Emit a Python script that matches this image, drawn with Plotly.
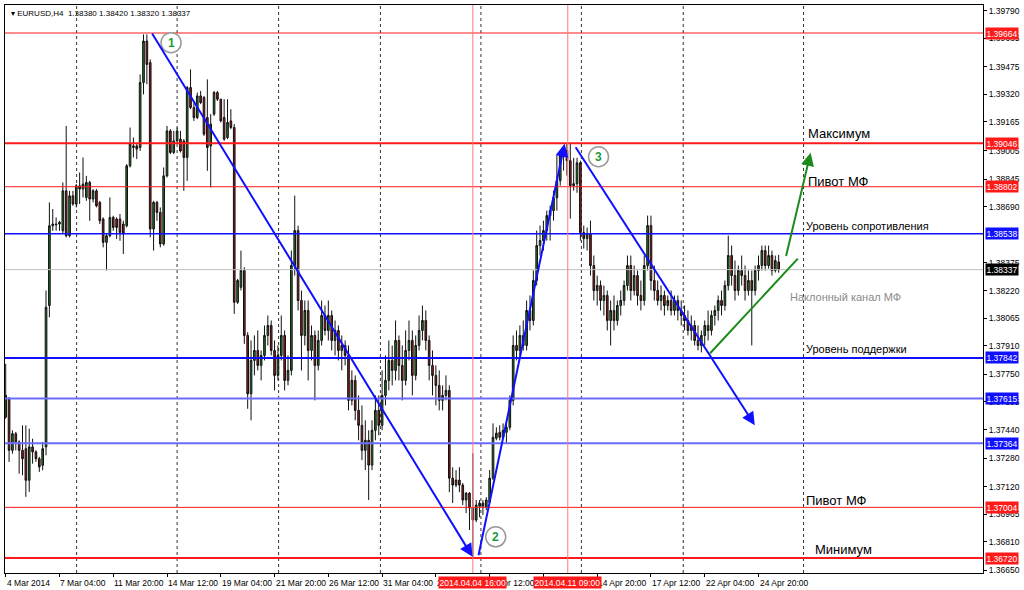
import plotly.graph_objects as go

# ---------------- data (EURUSD H4, bar index = H4 bar from 4 Mar 2014 12:00) ----------------
opens = [1.37511, 1.37613, 1.37324, 1.37417, 1.37371, 1.37324, 1.37333, 1.37156, 1.37343, 1.37315,
         1.37277, 1.37240, 1.37343, 1.38136, 1.38583, 1.38593, 1.38593, 1.38555, 1.38779, 1.38527,
         1.38751, 1.38705, 1.38807, 1.38789, 1.38742, 1.38826, 1.38733, 1.38779, 1.38714, 1.38621,
         1.38490, 1.38527, 1.38630, 1.38621, 1.38621, 1.38593, 1.38583, 1.38919, 1.39022, 1.39031,
         1.39022, 1.39386, 1.39619, 1.39498, 1.38565, 1.38714, 1.38658, 1.38481, 1.38863, 1.39115,
         1.38994, 1.39059, 1.39069, 1.39059, 1.38966, 1.39358, 1.39246, 1.39190, 1.39311, 1.39302,
         1.39190, 1.39031, 1.39209, 1.39330, 1.39293, 1.39190, 1.39078, 1.39171, 1.39134, 1.38154,
         1.38238, 1.38332, 1.37968,
         1.37641, 1.37828, 1.37884, 1.37800, 1.37856, 1.37968, 1.38024, 1.37884, 1.37744, 1.37856,
         1.37968, 1.37716, 1.37772, 1.38360, 1.38556, 1.38164, 1.37968, 1.38108, 1.37884, 1.37968,
         1.37800, 1.37940, 1.38080, 1.37996, 1.38080, 1.37940, 1.37996, 1.37884, 1.37912, 1.37856,
         1.37604, 1.37716, 1.37548, 1.37464, 1.37324, 1.37380, 1.37241, 1.37436, 1.37548, 1.37464,
         1.37632, 1.37716, 1.37828, 1.37772, 1.37940, 1.37800, 1.37716, 1.37884, 1.37940, 1.37744,
         1.37912, 1.37996, 1.38052, 1.37940, 1.37800, 1.37744, 1.37688, 1.37604, 1.37632, 1.37660,
         1.37168, 1.37129, 1.37157, 1.37129, 1.37045, 1.37084, 1.37000, 1.36933, 1.37011, 1.37028,
         1.37005, 1.37033, 1.37168, 1.37392, 1.37425, 1.37397, 1.37425, 1.37453, 1.37604, 1.37912,
         1.37884, 1.37968, 1.37912, 1.38108, 1.38052, 1.38276, 1.38472, 1.38500, 1.38556, 1.38640,
         1.38668, 1.38740, 1.38836, 1.38976, 1.39004, 1.38948, 1.38808, 1.38819, 1.38936, 1.38545,
         1.38511, 1.38539, 1.38360, 1.38220, 1.38248, 1.38164, 1.38192, 1.38052, 1.38108, 1.38052,
         1.38136, 1.38164, 1.38248, 1.38360, 1.38220, 1.38304, 1.38192, 1.38164, 1.38360, 1.38584,
         1.38276, 1.38220, 1.38164, 1.38192, 1.38136, 1.38164, 1.38108, 1.38164, 1.38108, 1.38080,
         1.38052, 1.37996, 1.38024, 1.37940, 1.37912, 1.37968, 1.38024, 1.37996, 1.38080, 1.38108,
         1.38164, 1.38136, 1.38248, 1.38416, 1.38304, 1.38220, 1.38332, 1.38304, 1.38220, 1.38276,
         1.38220, 1.38332, 1.38360, 1.38444, 1.38360, 1.38416, 1.38332, 1.38380]
highs = [1.37809, 1.37623, 1.37436, 1.37427, 1.37380, 1.37464, 1.37464, 1.37445, 1.37389, 1.37324,
         1.37287, 1.37371, 1.38220, 1.38714, 1.38677, 1.38630, 1.38611, 1.38826, 1.39143, 1.38779,
         1.38779, 1.38817, 1.38882, 1.38966, 1.38863, 1.38835, 1.38789, 1.38789, 1.38723, 1.38630,
         1.38537, 1.38742, 1.38639, 1.38630, 1.38649, 1.38611, 1.38929, 1.39134, 1.39078, 1.39041,
         1.39432, 1.39656, 1.39656, 1.39516, 1.38723, 1.38723, 1.38686, 1.38910, 1.39143, 1.39125,
         1.39115, 1.39134, 1.39115, 1.39069, 1.39367, 1.39460, 1.39283, 1.39330, 1.39339, 1.39311,
         1.39404, 1.39209, 1.39339, 1.39339, 1.39293, 1.39293, 1.39293, 1.39237, 1.39153, 1.38285,
         1.38444, 1.38350, 1.37986,
         1.37940, 1.37968, 1.37996, 1.37884, 1.38024, 1.38080, 1.38052, 1.37940, 1.37912, 1.38080,
         1.37996, 1.37856, 1.38444, 1.38752, 1.38584, 1.38220, 1.38164, 1.38164, 1.38024, 1.37996,
         1.37996, 1.38164, 1.38136, 1.38164, 1.38108, 1.38052, 1.38024, 1.37968, 1.37940, 1.37912,
         1.37772, 1.37744, 1.37632, 1.37576, 1.37492, 1.37436, 1.37492, 1.37632, 1.37632, 1.37772,
         1.37856, 1.37940, 1.37912, 1.38052, 1.37968, 1.37912, 1.37996, 1.38052, 1.37996, 1.37968,
         1.38080, 1.38136, 1.38108, 1.37968, 1.37884, 1.37800, 1.37772, 1.37688, 1.37744, 1.37688,
         1.37229, 1.37213, 1.37229, 1.37140, 1.37089, 1.37089, 1.37308, 1.37045, 1.37045, 1.37045,
         1.37061, 1.37213, 1.37475, 1.37453, 1.37464, 1.37475, 1.37492, 1.37632, 1.37968, 1.37996,
         1.38024, 1.38052, 1.38164, 1.38192, 1.38332, 1.38556, 1.38584, 1.38612, 1.38668, 1.38696,
         1.38780, 1.38976, 1.39004, 1.39032, 1.39043, 1.39043, 1.38964, 1.38964, 1.38948, 1.38584,
         1.38573, 1.38612, 1.38416, 1.38304, 1.38276, 1.38248, 1.38220, 1.38164, 1.38192, 1.38164,
         1.38220, 1.38276, 1.38416, 1.38416, 1.38360, 1.38332, 1.38276, 1.38416, 1.38640, 1.38640,
         1.38360, 1.38276, 1.38248, 1.38220, 1.38192, 1.38220, 1.38192, 1.38192, 1.38164, 1.38136,
         1.38108, 1.38080, 1.38052, 1.38024, 1.37996, 1.38052, 1.38108, 1.38108, 1.38136, 1.38192,
         1.38220, 1.38276, 1.38528, 1.38472, 1.38388, 1.38360, 1.38416, 1.38360, 1.38332, 1.38332,
         1.38360, 1.38416, 1.38472, 1.38472, 1.38472, 1.38444, 1.38416, 1.38420]
lows = [1.37501, 1.37259, 1.37305, 1.37324, 1.37193, 1.37184, 1.37063, 1.37091, 1.37249, 1.37259,
        1.37203, 1.37212, 1.37296, 1.38070, 1.38555, 1.38555, 1.38555, 1.38537, 1.38518, 1.38518,
        1.38695, 1.38686, 1.38705, 1.38742, 1.38723, 1.38611, 1.38714, 1.38686, 1.38593, 1.38462,
        1.38332, 1.38518, 1.38555, 1.38509, 1.38499, 1.38425, 1.38574, 1.38910, 1.38966, 1.38957,
        1.39003, 1.39320, 1.39377, 1.38518, 1.38444, 1.38611, 1.38462, 1.38471, 1.38854, 1.38985,
        1.38985, 1.39041, 1.38994, 1.38779, 1.38835, 1.39237, 1.39171, 1.39181, 1.39265, 1.39087,
        1.38891, 1.38798, 1.39199, 1.39283, 1.39162, 1.39059, 1.39069, 1.39125, 1.38089, 1.38145,
        1.38220, 1.37921, 1.37557,
        1.37492, 1.37744, 1.37772, 1.37716, 1.37828, 1.37912, 1.37856, 1.37660, 1.37716, 1.37828,
        1.37660, 1.37688, 1.37744, 1.38304, 1.38108, 1.37772, 1.37912, 1.37716, 1.37828, 1.37604,
        1.37772, 1.37912, 1.37968, 1.37940, 1.37884, 1.37856, 1.37828, 1.37772, 1.37800, 1.37548,
        1.37576, 1.37492, 1.37380, 1.37269, 1.37213, 1.37045, 1.37213, 1.37380, 1.37408, 1.37436,
        1.37576, 1.37660, 1.37688, 1.37716, 1.37716, 1.37604, 1.37688, 1.37828, 1.37632, 1.37716,
        1.37884, 1.37940, 1.37884, 1.37716, 1.37632, 1.37576, 1.37548, 1.37548, 1.37604, 1.37089,
        1.37028, 1.37117, 1.37089, 1.37017, 1.36972, 1.36877, 1.36726, 1.36921, 1.36949, 1.36961,
        1.36989, 1.37028, 1.37157, 1.37380, 1.37380, 1.37392, 1.37364, 1.37436, 1.37576, 1.37828,
        1.37856, 1.37884, 1.37884, 1.37996, 1.38024, 1.38248, 1.38416, 1.38444, 1.38500, 1.38500,
        1.38612, 1.38668, 1.38808, 1.38892, 1.38864, 1.38623, 1.38780, 1.38768, 1.38500, 1.38455,
        1.38444, 1.38304, 1.38164, 1.38136, 1.38108, 1.38080, 1.37996, 1.37912, 1.37996, 1.38024,
        1.38080, 1.38136, 1.38220, 1.38164, 1.38192, 1.38136, 1.38108, 1.38136, 1.38332, 1.38220,
        1.38164, 1.38136, 1.38108, 1.38080, 1.38108, 1.38080, 1.38080, 1.38052, 1.38024, 1.37996,
        1.37968, 1.37940, 1.37912, 1.37884, 1.37873, 1.37912, 1.37940, 1.37968, 1.38024, 1.38052,
        1.38080, 1.38108, 1.38220, 1.38248, 1.38164, 1.38192, 1.38248, 1.38164, 1.38192, 1.37912,
        1.38192, 1.38276, 1.38332, 1.38332, 1.38343, 1.38304, 1.38321, 1.38320]
closes = [1.37632, 1.37324, 1.37417, 1.37371, 1.37324, 1.37277, 1.37156, 1.37343, 1.37315, 1.37277,
          1.37231, 1.37333, 1.38126, 1.38583, 1.38593, 1.38589, 1.38602, 1.38779, 1.38527, 1.38751,
          1.38705, 1.38807, 1.38789, 1.38817, 1.38826, 1.38733, 1.38779, 1.38695, 1.38611, 1.38490,
          1.38527, 1.38630, 1.38574, 1.38574, 1.38546, 1.38537, 1.38919, 1.39041, 1.39031, 1.39013,
          1.39386, 1.39619, 1.39488, 1.38565, 1.38714, 1.38658, 1.38481, 1.38863, 1.39115, 1.38994,
          1.39059, 1.39115, 1.39003, 1.38966, 1.39358, 1.39246, 1.39190, 1.39311, 1.39274, 1.39097,
          1.39022, 1.39153, 1.39330, 1.39293, 1.39171, 1.39069, 1.39162, 1.39134, 1.38154, 1.38276,
          1.38332, 1.37968, 1.37641,
          1.37828, 1.37884, 1.37800, 1.37856, 1.37968, 1.38024, 1.37884, 1.37744, 1.37856, 1.37968,
          1.37716, 1.37772, 1.38360, 1.38556, 1.38164, 1.37968, 1.38108, 1.37884, 1.37968, 1.37800,
          1.37940, 1.38080, 1.37996, 1.38080, 1.37940, 1.37996, 1.37884, 1.37912, 1.37856, 1.37604,
          1.37716, 1.37548, 1.37464, 1.37324, 1.37380, 1.37241, 1.37436, 1.37548, 1.37464, 1.37632,
          1.37716, 1.37828, 1.37772, 1.37940, 1.37800, 1.37716, 1.37884, 1.37940, 1.37744, 1.37912,
          1.37996, 1.38052, 1.37940, 1.37800, 1.37744, 1.37688, 1.37604, 1.37632, 1.37660, 1.37168,
          1.37129, 1.37157, 1.37129, 1.37045, 1.37084, 1.37000, 1.36933, 1.37017, 1.37028, 1.37011,
          1.37045, 1.37168, 1.37397, 1.37420, 1.37397, 1.37436, 1.37453, 1.37604, 1.37912, 1.37884,
          1.37968, 1.37912, 1.38108, 1.38052, 1.38276, 1.38472, 1.38500, 1.38556, 1.38640, 1.38668,
          1.38740, 1.38836, 1.38976, 1.39004, 1.38948, 1.38808, 1.38819, 1.38936, 1.38545, 1.38511,
          1.38539, 1.38360, 1.38220, 1.38248, 1.38164, 1.38192, 1.38052, 1.38108, 1.38052, 1.38136,
          1.38164, 1.38248, 1.38360, 1.38220, 1.38304, 1.38192, 1.38164, 1.38360, 1.38584, 1.38276,
          1.38220, 1.38164, 1.38192, 1.38136, 1.38164, 1.38108, 1.38164, 1.38108, 1.38080, 1.38052,
          1.37996, 1.38024, 1.37940, 1.37912, 1.37968, 1.38024, 1.37996, 1.38080, 1.38108, 1.38164,
          1.38136, 1.38248, 1.38416, 1.38304, 1.38220, 1.38332, 1.38304, 1.38220, 1.38276, 1.38220,
          1.38332, 1.38360, 1.38444, 1.38360, 1.38416, 1.38332, 1.38388, 1.38337]

header_text = "EURUSD,H4  1.38380 1.38420 1.38320 1.38337"

# time axis labels (every 16 H4 bars)
time_tick_bars = [0, 16, 32, 48, 64, 80, 96, 112, 128, 144, 160, 176, 192, 208, 224]
time_tick_labels = ["4 Mar 2014", "7 Mar 04:00", "11 Mar 20:00", "14 Mar 12:00", "19 Mar 04:00",
                    "21 Mar 20:00", "26 Mar 12:00", "31 Mar 04:00", "2 Apr 20:00", "7 Apr 12:00",
                    "10 Apr 04:00", "14 Apr 20:00", "17 Apr 12:00", "22 Apr 04:00", "24 Apr 20:00"]
grid_bars = [21.1, 51.0, 81.2, 111.5, 141.4, 171.3, 201.6, 237.4]

# price axis ticks
price_ticks = [1.39790, 1.39635, 1.39475, 1.39320, 1.39165, 1.39005, 1.38845, 1.38690,
               1.38375, 1.38220, 1.38065, 1.37910, 1.37750, 1.37595, 1.37440, 1.37280, 1.37120,
               1.36965, 1.36810, 1.36650]

# horizontal level objects
level_values = [1.39664, 1.39046, 1.38802, 1.38538, 1.38337, 1.37842, 1.37615, 1.37364, 1.37004, 1.36720]
level_kinds = ["red", "red2", "red", "blue", "current", "blue2", "lblue", "lblue", "red", "red2"]

# vertical time markers
vline_bars = [139, 167.25]
vline_labels = ["2014.04.04 16:00", "2014.04.11 09:00"]

# trend lines (bar, price) -> (bar, price)
trend_lines = [
    ((43.3, 1.39670), (138.9, 1.36727), "blue"),
    ((140.6, 1.36727), (166.3, 1.39043), "blue"),
    ((169.3, 1.39032), (222.9, 1.37465), "blue"),
    ((232.1, 1.38405), (239.5, 1.38992), "green"),
]
support_line = ((209.6, 1.37868), (235.7, 1.38399))

# numbered wave points
wave_labels = ["1", "2", "3"]
wave_bars = [49.2, 145.8, 176.4]
wave_prices = [1.39610, 1.36839, 1.38970]

# text notes
note_texts = ["Максимум", "Пивот МФ", "Уровень сопротивления", "Наклонный канал МФ",
              "Уровень поддержки", "Пивот МФ", "Минимум"]
note_bars = [238.0, 238.0, 237.4, 232.7, 237.4, 237.4, 240.1]
note_prices = [1.39099, 1.38830, 1.38584, 1.38186, 1.37890, 1.37045, 1.36770]
note_sizes = [13, 13, 11, 11, 11, 13, 13]
note_colors = ["#000000", "#000000", "#000000", "#8a8a8a", "#000000", "#000000", "#000000"]

# ---------------- figure ----------------
FONT = "Tahoma, Liberation Sans, Arial, sans-serif"
UI_SIZE = 8
X_RANGE = [-0.21, 290.8]
Y_RANGE = [1.36636, 1.39821]

bar_index = list(range(len(closes)))

fig = go.Figure()
fig.add_trace(go.Candlestick(
    x=bar_index, open=opens, high=highs, low=lows, close=closes,
    increasing=dict(fillcolor="#1f7a1f", line=dict(color="#111111", width=1)),
    decreasing=dict(fillcolor="#a01818", line=dict(color="#111111", width=1)),
    whiskerwidth=0, showlegend=False, hoverinfo="skip"))

shapes = []
annotations = []

# dotted grid
for gb in grid_bars:
    shapes.append(dict(type="line", xref="x", yref="paper", x0=gb, x1=gb, y0=0, y1=1,
                       line=dict(color="#333333", width=1, dash="dot"), layer="below"))

level_style = {
    "red": dict(color="#ff1a1a", width=1, bg="#ff1a1a"),
    "red2": dict(color="#ff1a1a", width=2, bg="#ff1a1a"),
    "blue": dict(color="#1010ff", width=1.5, bg="#1010ff"),
    "blue2": dict(color="#1010ff", width=2, bg="#1010ff"),
    "lblue": dict(color="#6b6bff", width=2, bg="#1010ff"),
    "current": dict(color="#c0c0c0", width=1, bg="#000000"),
}
for val, kind in zip(level_values, level_kinds):
    st = level_style[kind]
    shapes.append(dict(type="line", xref="paper", yref="y", x0=0, x1=1, y0=val, y1=val,
                       line=dict(color=st["color"], width=st["width"])))
    annotations.append(dict(xref="paper", yref="y", x=1, y=val, xanchor="left", yanchor="middle",
                            xshift=2, text=f"{val:.5f}", showarrow=False, bgcolor=st["bg"],
                            borderpad=0.5, font=dict(family=FONT, size=8.5, color="white")))

# vertical markers
for vb, vl in zip(vline_bars, vline_labels):
    shapes.append(dict(type="line", xref="x", yref="paper", x0=vb, x1=vb, y0=0, y1=1,
                       line=dict(color="#ff7a7a", width=1)))
    annotations.append(dict(xref="x", yref="paper", x=vb, y=0, xanchor="center", yanchor="top",
                            yshift=-3, text=vl, showarrow=False, bgcolor="#ff1a1a", borderpad=0.5,
                            font=dict(family=FONT, size=UI_SIZE + 0.5, color="white")))

# time labels
for tb, tl in zip(time_tick_bars, time_tick_labels):
    annotations.insert(0, dict(xref="x", yref="paper", x=tb, y=0, xanchor="left", yanchor="top",
                               xshift=-1, yshift=-3, text=tl, showarrow=False,
                               font=dict(family=FONT, size=UI_SIZE + 0.5, color="black")))

# support trend line (green, no arrow)
shapes.append(dict(type="line", xref="x", yref="y", x0=support_line[0][0], y0=support_line[0][1],
                   x1=support_line[1][0], y1=support_line[1][1], line=dict(color="#1a8a1a", width=2)))

# arrowed trend lines
colors = {"blue": "#1010ff", "green": "#1a8a1a"}
for (p0, p1, c) in trend_lines:
    annotations.append(dict(xref="x", yref="y", axref="x", ayref="y", x=p1[0], y=p1[1],
                            ax=p0[0], ay=p0[1], text="", showarrow=True, arrowhead=2,
                            arrowsize=1.3, arrowwidth=2, arrowcolor=colors[c], standoff=0,
                            startstandoff=0))

# wave circles
for wl, wb, wp in zip(wave_labels, wave_bars, wave_prices):
    shapes.append(dict(type="circle", xref="x", yref="y", xsizemode="pixel", ysizemode="pixel",
                       xanchor=wb, yanchor=wp, x0=-10, x1=10, y0=-10, y1=10,
                       fillcolor="white", line=dict(color="#9a9a9a", width=1.5)))
    annotations.append(dict(xref="x", yref="y", x=wb, y=wp, text=f"<b>{wl}</b>", showarrow=False,
                            font=dict(family="Liberation Sans, Arial", size=12, color="#1a9a3a")))

# notes
for t, b, p, s, c in zip(note_texts, note_bars, note_prices, note_sizes, note_colors):
    annotations.append(dict(xref="x", yref="y", x=b, y=p, xanchor="left", yanchor="middle",
                            text=t, showarrow=False,
                            font=dict(family="Liberation Sans, Arial", size=s, color=c)))

# header
annotations.append(dict(xref="paper", yref="paper", x=0, y=1, xanchor="left", yanchor="top",
                        xshift=4, yshift=-2, text="▾ " + header_text, showarrow=False,
                        font=dict(family=FONT, size=UI_SIZE, color="black")))

fig.update_layout(
    width=1024, height=590,
    margin=dict(l=4, r=38, t=4, b=17),
    paper_bgcolor="white", plot_bgcolor="white",
    shapes=shapes, annotations=annotations,
    xaxis=dict(range=X_RANGE, showgrid=False, zeroline=False, showline=True, linecolor="black",
               linewidth=1, mirror=True, ticks="outside", ticklen=3, tickcolor="black",
               tickvals=time_tick_bars, showticklabels=False, rangeslider=dict(visible=False),
               fixedrange=True),
    yaxis=dict(range=Y_RANGE, side="right", showgrid=False, zeroline=False, showline=True,
               linecolor="black", linewidth=1, mirror=True, ticks="outside", ticklen=3,
               tickcolor="black", tickvals=price_ticks, ticktext=[f"{v:.5f}" for v in price_ticks],
               tickfont=dict(family=FONT, size=8.5, color="black"), fixedrange=True),
    showlegend=False,
)

fig.write_html("out.html", config={"displayModeBar": False},
               post_script="document.body.style.margin='0';document.body.style.overflow='hidden';")
